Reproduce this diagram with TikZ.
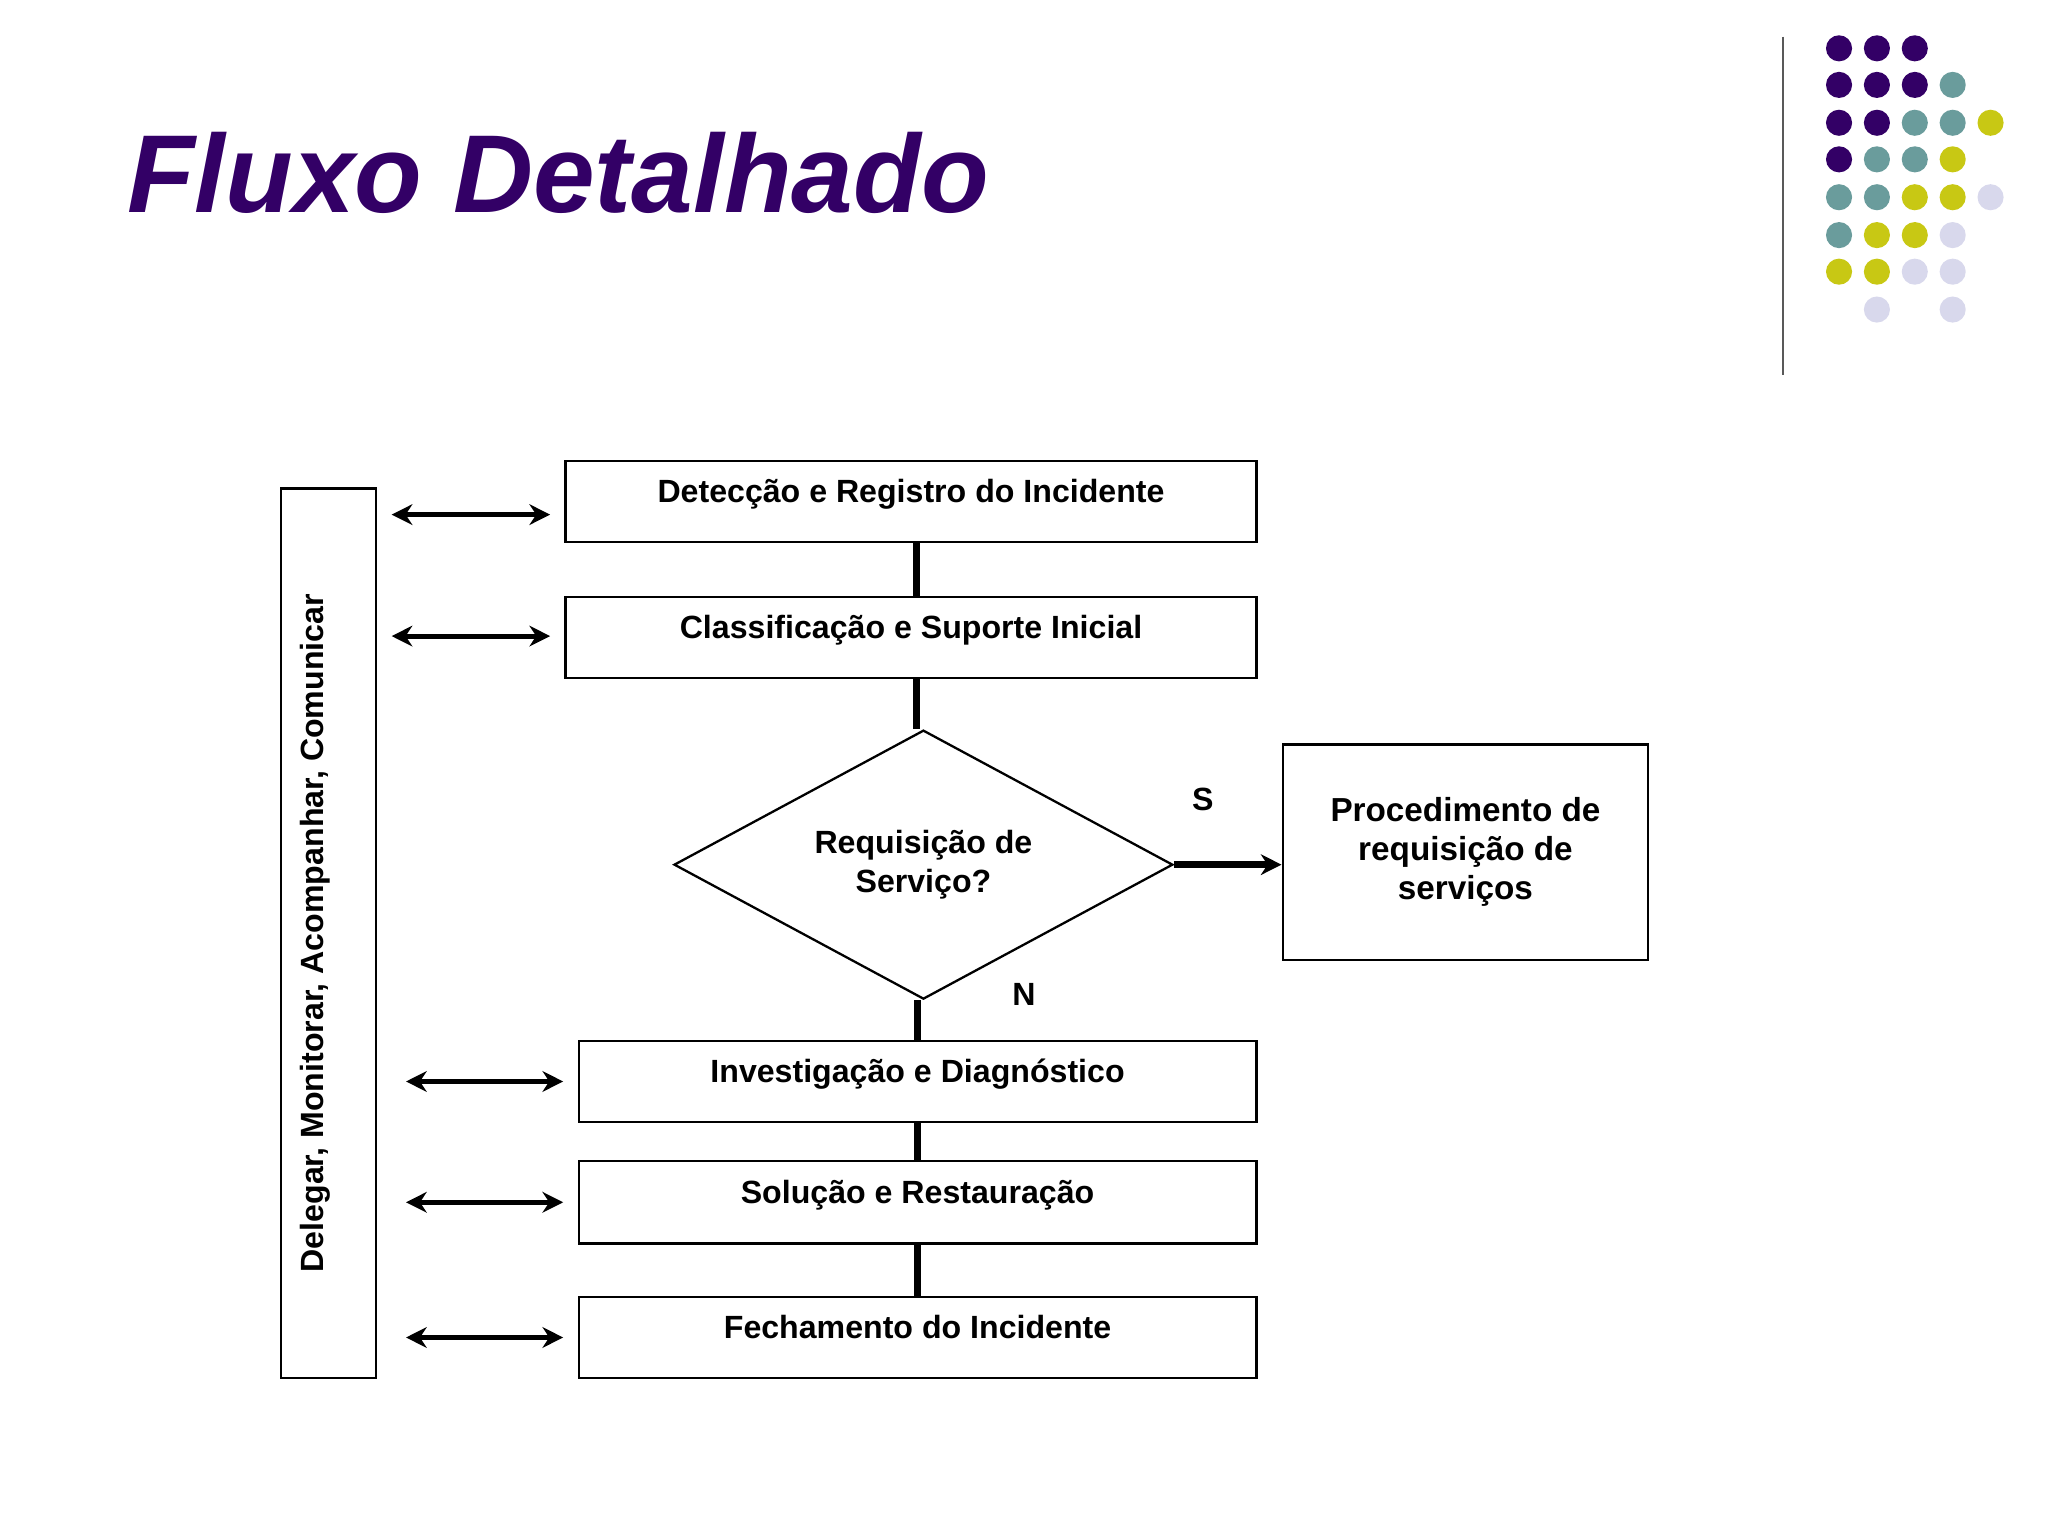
\documentclass[tikz,border=0pt]{standalone}
\usepackage{fontspec}
\setmainfont{Liberation Sans}
\usetikzlibrary{shapes.geometric,arrows.meta,calc}
\definecolor{ttl}{HTML}{330066}
\definecolor{dp}{HTML}{330066}
\definecolor{dt}{HTML}{6A9C9C}
\definecolor{dy}{HTML}{C8C814}
\definecolor{dl}{HTML}{D8D8EC}
\tikzset{
  box/.style={draw,line width=1pt,inner sep=0pt,text depth=0.32cm,font=\bfseries\fontsize{14}{16}\selectfont},
  conn/.style={line width=3pt},
  biarrow/.style={line width=2.2pt,{Stealth[length=9pt,width=9pt]}-{Stealth[length=9pt,width=9pt]}},
  dot/.style={circle,inner sep=0pt,minimum size=0.4cm},
  lbl/.style={font=\bfseries\fontsize{14}{16}\selectfont}
}
\begin{document}
\begin{tikzpicture}[x=0.02cm,y=-0.02cm]
\useasboundingbox (0,0) rectangle (1568,1176);
% title
\node[anchor=south west,inner sep=0pt,text=ttl] (title) at (97,164) {\resizebox{13.2cm}{!}{\bfseries\itshape Fluxo Detalhado}};
% separator
\draw[line width=1pt,gray!70!black] (1365,28) -- (1365,287);
% dots
\foreach \x/\y/\c in {1408/37/dp,1437/37/dp,1466/37/dp,
  1408/65/dp,1437/65/dp,1466/65/dp,1495/65/dt,
  1408/94/dp,1437/94/dp,1466/94/dt,1495/94/dt,1524/94/dy,
  1408/122/dp,1437/122/dt,1466/122/dt,1495/122/dy,
  1408/151/dt,1437/151/dt,1466/151/dy,1495/151/dy,1524/151/dl,
  1408/180/dt,1437/180/dy,1466/180/dy,1495/180/dl,
  1408/208/dy,1437/208/dy,1466/208/dl,1495/208/dl,
  1437/237/dl,1495/237/dl}
  \node[dot,fill=\c] at (\x,\y) {};
% boxes
\node[box,minimum width=10.58cm,minimum height=1.24cm] (d1) at (697.5,384) {Detecção e Registro do Incidente};
\node[box,minimum width=10.58cm,minimum height=1.24cm] (d2) at (697.5,488) {Classificação e Suporte Inicial};
\node[draw,line width=1pt,diamond,inner sep=0pt,minimum width=7.64cm,minimum height=4.12cm,shape aspect=1.85,align=center,font=\bfseries\fontsize{14}{17}\selectfont] (dia) at (707,662) {Requisição de\\Serviço?};
\node[draw,line width=1pt,minimum width=5.6cm,minimum height=3.3cm,align=center,font=\bfseries\fontsize{14.5}{17}\selectfont] (rq) at (1122,652.5) {Procedimento de\\requisição de\\serviços};
\node[box,minimum width=10.38cm,minimum height=1.24cm] (inv) at (702.5,828) {Investigação e Diagnóstico};
\node[box,minimum width=10.38cm,minimum height=1.26cm] (sol) at (702.5,920.5) {Solução e Restauração};
\node[box,minimum width=10.38cm,minimum height=1.24cm] (fec) at (702.5,1024) {Fechamento do Incidente};
\node[draw,line width=1pt,minimum width=1.46cm,minimum height=13.62cm] (left) at (251.5,714.5) {};
\node[rotate=90,font=\bfseries\fontsize{14}{16}\selectfont] (lt) at (241,714.5) {Delegar, Monitorar, Acompanhar, Comunicar};
% connectors
\coordinate (c1) at ($(d1.south)+(4.5,0)$);
\coordinate (c2) at ($(d2.south)+(4.5,0)$);
\draw[conn] (c1) -- (c1 |- d2.north);
\draw[conn] (c2) -- (c2 |- dia.north);
\draw[conn] (inv.north |- dia.south) -- (inv.north);
\draw[conn] (inv.south) -- (sol.north);
\draw[conn] (sol.south) -- (fec.north);
\draw[conn,-{Stealth[length=9pt,width=9pt]}] (dia.east) -- (dia.east -| rq.west);
\node[lbl] (s) at (921,612) {S};
\node[lbl] (n) at (784,761) {N};
% bi-arrows
\draw[biarrow] ($(left.east |- d1)+(11,10)$) -- ($(d1.west)+(-11,10)$);
\draw[biarrow] ($(left.east |- d2)+(11,-1)$) -- ($(d2.west)+(-11,-1)$);
\draw[biarrow] ($(left.east |- inv)+(22,0)$) -- ($(inv.west)+(-11,0)$);
\draw[biarrow] ($(left.east |- sol)+(22,0)$) -- ($(sol.west)+(-11,0)$);
\draw[biarrow] ($(left.east |- fec)+(22,0)$) -- ($(fec.west)+(-11,0)$);
\end{tikzpicture}
\end{document}
